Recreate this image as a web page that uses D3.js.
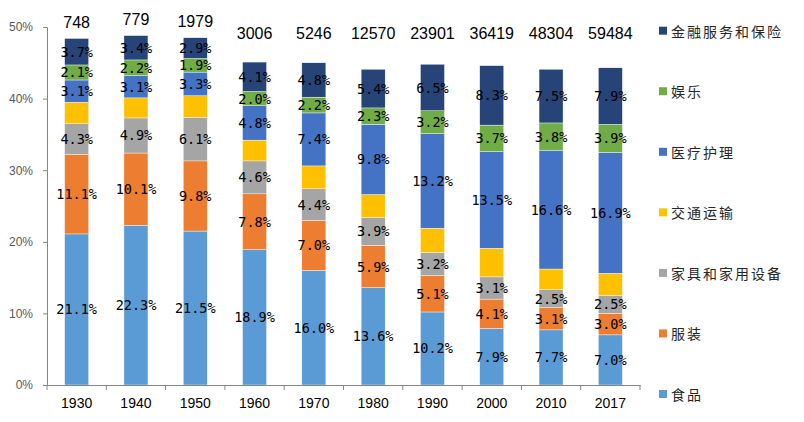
<!DOCTYPE html>
<html><head><meta charset="utf-8">
<script src="https://cdn.jsdelivr.net/npm/d3@7"></script>
<style>body{margin:0;background:#fff}</style>
</head><body><svg id="c" width="804" height="422"></svg>
<script>
const years = ["1930","1940","1950","1960","1970","1980","1990","2000","2010","2017"];
const incomes = ["748","779","1979","3006","5246","12570","23901","36419","48304","59484"];
const food        = [21.1,22.3,21.5,18.9,16.0,13.6,10.2,7.9,7.7,7.0];
const clothing    = [11.1,10.1,9.8,7.8,7.0,5.9,5.1,4.1,3.1,3.0];
const furniture   = [4.3,4.9,6.1,4.6,4.4,3.9,3.2,3.1,2.5,2.5];
const transport   = [3.0,2.8,3.0,2.9,3.2,3.2,3.4,4.0,2.9,3.1];
const health      = [3.1,3.1,3.3,4.8,7.4,9.8,13.2,13.5,16.6,16.9];
const entertainment=[2.1,2.2,1.9,2.0,2.2,2.3,3.2,3.7,3.8,3.9];
const finance     = [3.7,3.4,2.9,4.1,4.8,5.4,6.5,8.3,7.5,7.9];
const seriesNames = ["食品","服装","家具和家用设备","交通运输","医疗护理","娱乐","金融服务和保险"];
const labeled     = [true,true,true,false,true,true,true];
const yTicks = [0,10,20,30,40,50];

const seriesValues = [food,clothing,furniture,transport,health,entertainment,finance];
const colors = ["#5B9BD5","#ED7D31","#A5A5A5","#FFC000","#4472C4","#70AD47","#264478"];

const svg = d3.select("#c");
const x = d3.scaleBand().domain(years).range([47,640]).paddingInner(0.595).paddingOuter(0.2975);
const y = d3.scaleLinear().domain([0,50]).range([385,27]);

const rows = years.map((yr,i)=>{const o={year:yr}; seriesNames.forEach((s,k)=>o[s]=seriesValues[k][i]); return o;});
const stack = d3.stack().keys(seriesNames)(rows);

const g = svg.append("g");
stack.forEach((layer,k)=>{
  g.selectAll(null).data(layer).enter().append("rect")
    .attr("x",d=>x(d.data.year)).attr("width",x.bandwidth())
    .attr("y",d=>y(d[1])).attr("height",d=>y(d[0])-y(d[1]))
    .attr("fill",colors[k]).attr("stroke","#fff").attr("stroke-width",0.4);
  if(labeled[k]){
    g.selectAll(null).data(layer).enter().append("text")
      .attr("x",d=>x(d.data.year)+x.bandwidth()/2)
      .attr("y",d=>(y(d[0])+y(d[1]))/2)
      .attr("text-anchor","middle").attr("dominant-baseline","central")
      .attr("font-family","'DejaVu Sans Mono', monospace").attr("font-size",13.5)
      .attr("fill","#000")
      .text(d=>seriesValues[k][years.indexOf(d.data.year)].toFixed(1)+"%");
  }
});

// income labels
const topLayer = stack[stack.length-1];
svg.selectAll(null).data(topLayer).enter().append("text")
  .attr("x",d=>x(d.data.year)+x.bandwidth()/2)
  .attr("y",d=>Math.min(y(d[1])-16,33))
  .attr("text-anchor","middle").attr("dominant-baseline","central")
  .attr("font-family","'Liberation Sans', Arial, sans-serif").attr("font-size",16).attr("fill","#000")
  .text((d,i)=>incomes[i]);

// y axis
const ya = svg.append("g").attr("transform","translate(47,0)")
  .call(d3.axisLeft(y).tickValues(yTicks).tickSize(4).tickPadding(10).tickFormat(d=>d+"%"));
ya.select(".domain").attr("stroke","#868686");
ya.selectAll(".tick line").attr("stroke","#868686");
ya.selectAll("text").attr("font-family","'Liberation Sans', Arial, sans-serif").attr("font-size",12).attr("fill","#595959");

// x axis
const xa = svg.append("g").attr("transform","translate(0,385)")
  .call(d3.axisBottom(x).tickSize(0).tickPadding(13));
xa.select(".domain").attr("stroke","#868686");
xa.selectAll("text").attr("font-family","'Liberation Sans', Arial, sans-serif").attr("font-size",14).attr("fill","#000");
const bounds = years.map(yr=>x(yr)-x.step()*x.paddingInner()/2).concat([640]);
xa.selectAll(null).data(bounds).enter().append("line")
  .attr("x1",d=>d).attr("x2",d=>d).attr("y1",0).attr("y2",5).attr("stroke","#868686");

// legend
const legendOrder = seriesNames.map((s,k)=>k).reverse();
const lg = svg.append("g");
legendOrder.forEach((k,i)=>{
  const cy = 30.7 + i*60.55;
  lg.append("rect").attr("x",659).attr("y",cy-4).attr("width",8).attr("height",8).attr("fill",colors[k]);
  lg.append("text").attr("x",671).attr("y",cy).attr("dominant-baseline","central")
    .attr("font-family","'Noto Sans CJK SC', sans-serif").attr("font-size",14).attr("letter-spacing",2)
    .attr("fill","#262626").text(seriesNames[k]);
});
</script></body></html>
